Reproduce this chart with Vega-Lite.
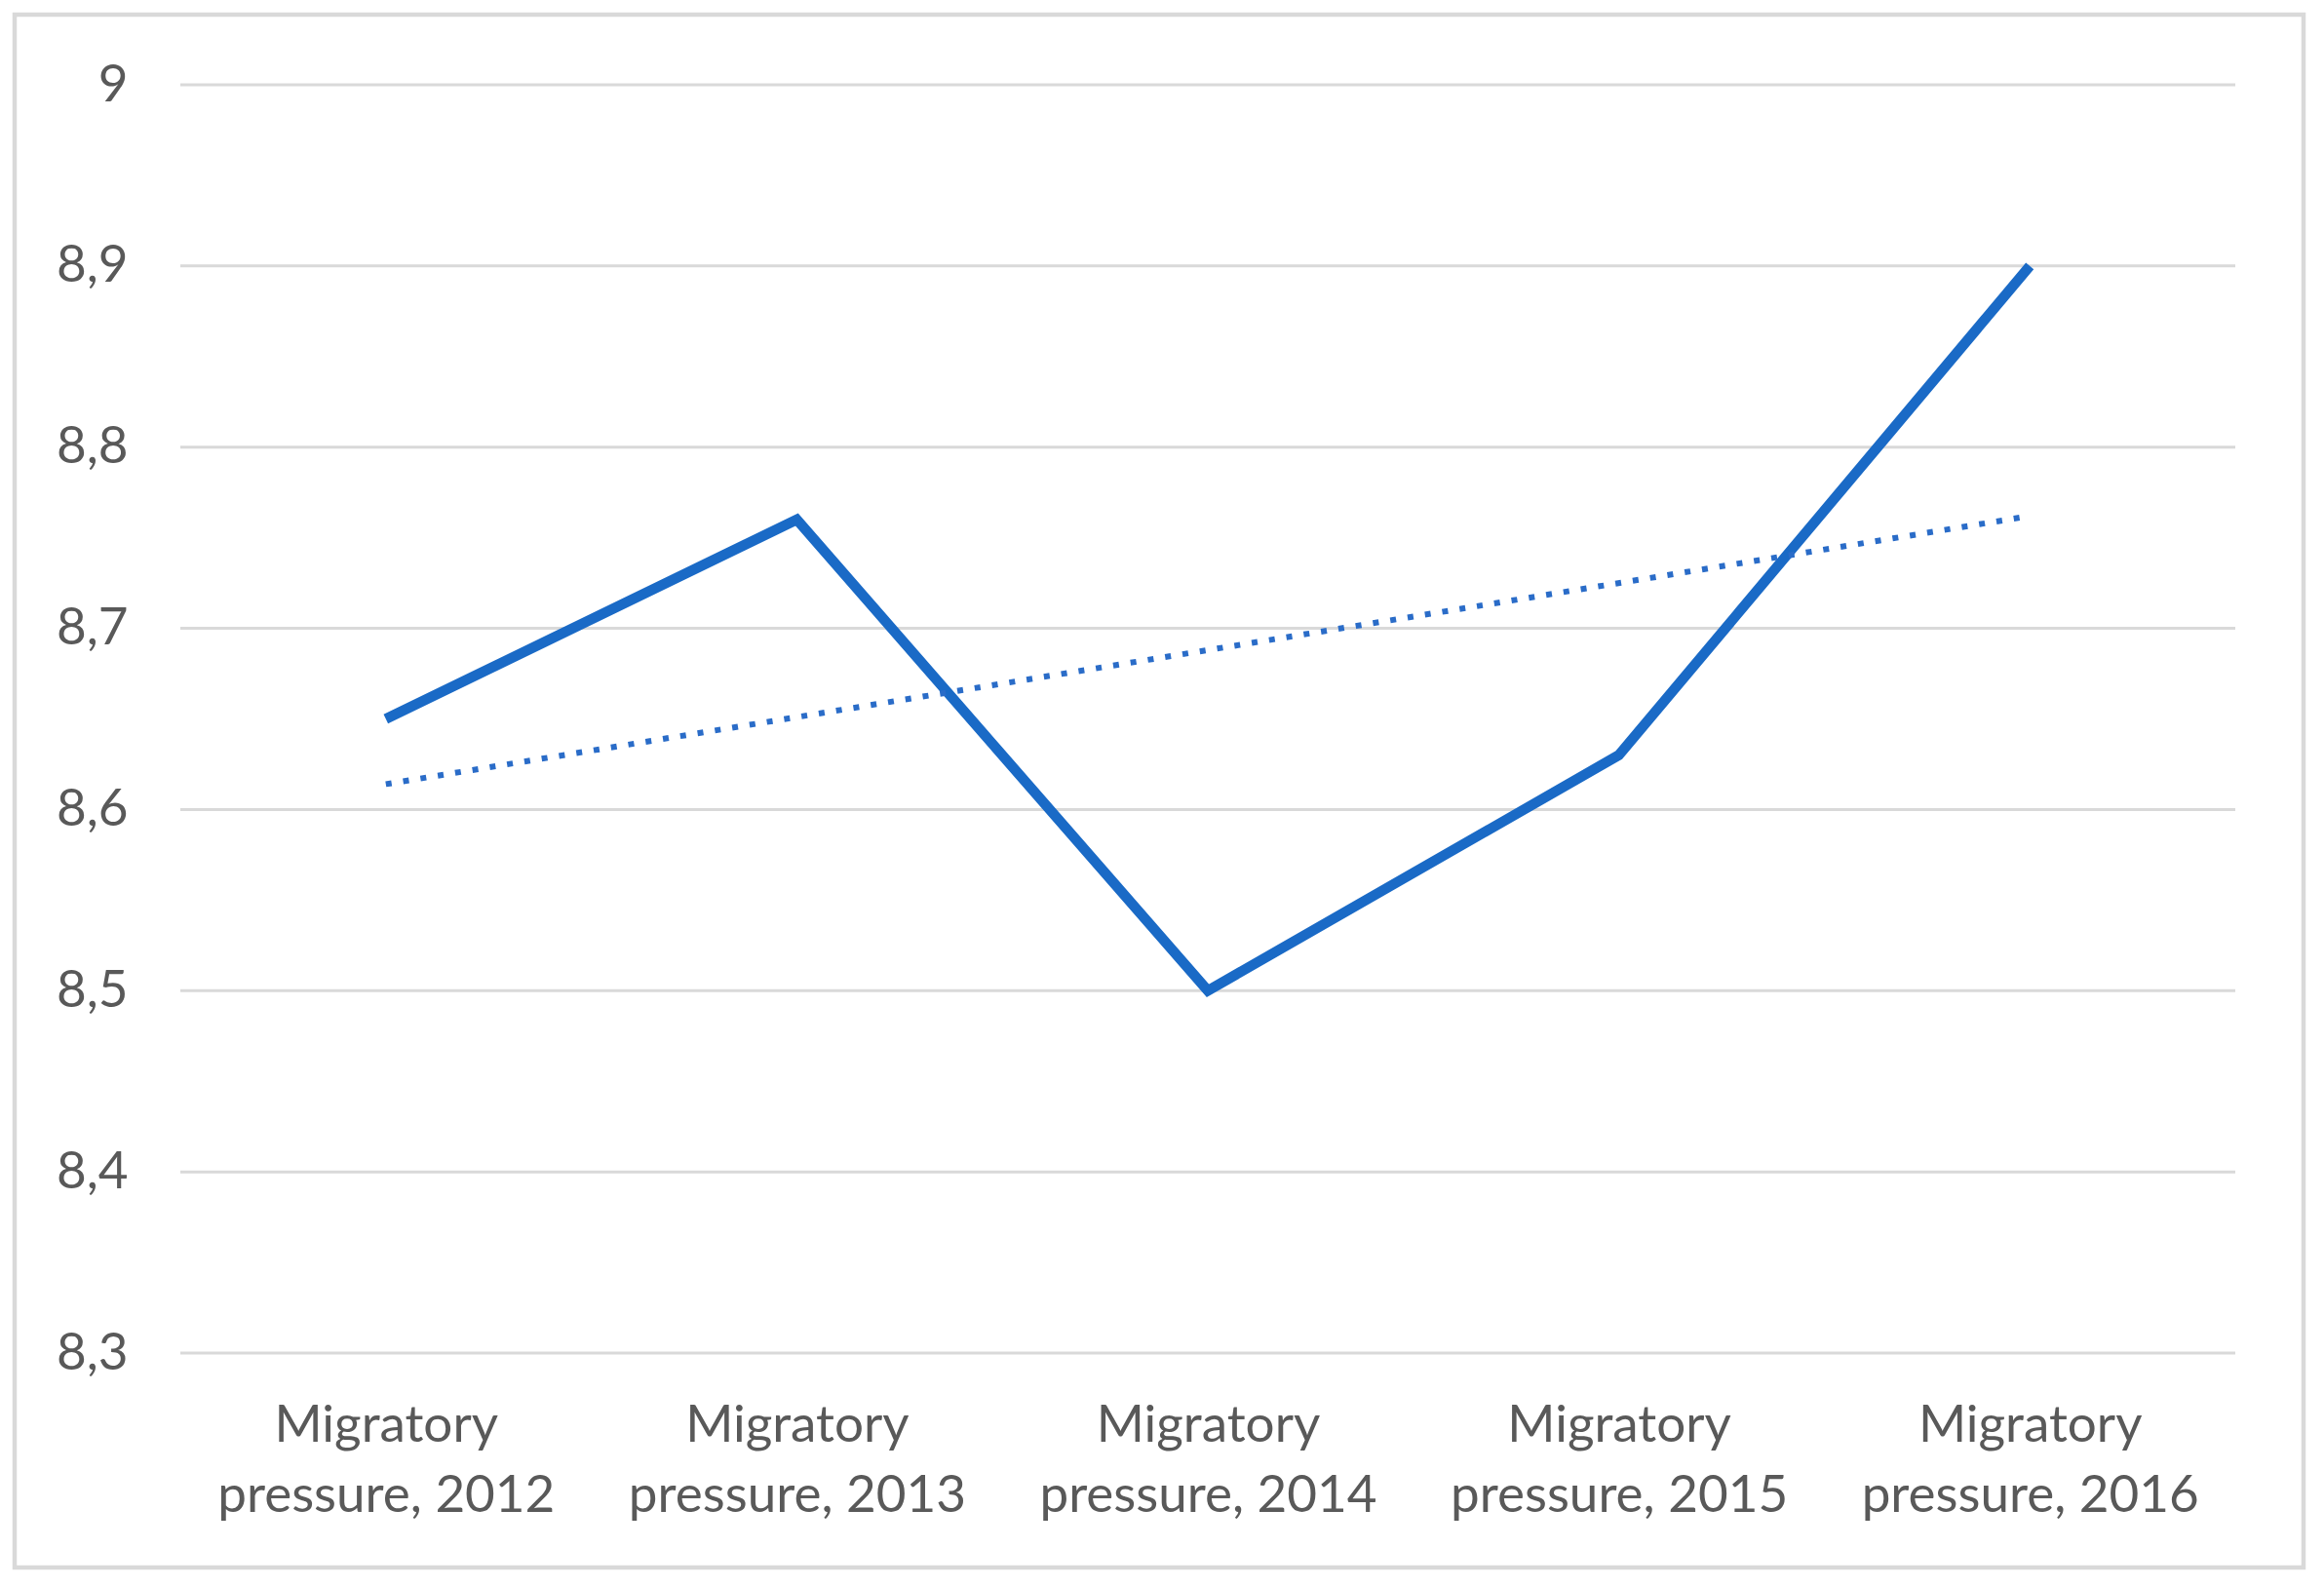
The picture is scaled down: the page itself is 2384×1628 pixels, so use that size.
{
  "$schema": "https://vega.github.io/schema/vega-lite/v6.json",
  "width": 2348,
  "height": 1593,
  "autosize": {"type": "none"},
  "padding": {"left": 15, "top": 15, "right": 21, "bottom": 20},
  "background": "white",
  "config": {
    "view": {"stroke": "#D9D9D9", "strokeWidth": 4.5}
  },
  "datasets": {
    "series": [
      {"year": 2012, "value": 8.65, "series": "Migratory pressure"},
      {"year": 2013, "value": 8.76, "series": "Migratory pressure"},
      {"year": 2014, "value": 8.50, "series": "Migratory pressure"},
      {"year": 2015, "value": 8.63, "series": "Migratory pressure"},
      {"year": 2016, "value": 8.90, "series": "Migratory pressure"},
      {"year": 2012, "value": 8.614, "series": "Linear trend"},
      {"year": 2016, "value": 8.762, "series": "Linear trend"}
    ],
    "grid": [
      {"v": 8.3}, {"v": 8.4}, {"v": 8.5}, {"v": 8.6},
      {"v": 8.7}, {"v": 8.8}, {"v": 8.9}, {"v": 9.0}
    ]
  },
  "layer": [
    {
      "data": {"name": "grid"},
      "mark": {"type": "rule", "color": "#D9D9D9", "strokeWidth": 3},
      "encoding": {
        "y": {
          "field": "v",
          "type": "quantitative",
          "scale": {"domain": [8.18163, 9.03874], "nice": false, "zero": false},
          "axis": {
            "values": [8.3, 8.4, 8.5, 8.6, 8.7, 8.8, 8.9, 9.0],
            "labelExpr": "replace(format(datum.value, '.1~f'), '.', ',')",
            "ticks": false,
            "tickSize": 0,
            "domain": false,
            "grid": false,
            "labelPadding": -116,
            "labelAlign": "right",
            "labelBaseline": "middle",
            "labelFont": "Lato",
            "labelFontSize": 53,
            "labelColor": "#595959",
            "labelOverlap": false,
            "labelFlush": false,
            "labelLimit": 0,
            "title": null
          }
        },
        "x": {
          "datum": 2011.5,
          "type": "quantitative",
          "scale": {"domain": [2011.0968, 2016.666], "nice": false, "zero": false},
          "axis": {
            "values": [2012, 2013, 2014, 2015, 2016],
            "labelExpr": "['Migratory', 'pressure, ' + datum.value]",
            "ticks": false,
            "tickSize": 0,
            "domain": false,
            "grid": false,
            "labelPadding": -130,
            "labelAlign": "center",
            "labelBaseline": "alphabetic",
            "labelFont": "Lato",
            "labelFontSize": 53,
            "labelLineHeight": 72,
            "labelColor": "#595959",
            "labelOverlap": false,
            "labelFlush": false,
            "labelLimit": 0,
            "title": null
          }
        },
        "x2": {"datum": 2016.5}
      }
    },
    {
      "data": {"name": "series"},
      "transform": [{"filter": "datum.series === 'Migratory pressure'"}],
      "mark": {"type": "line", "color": "#1A6AC6", "strokeWidth": 10.5, "strokeJoin": "miter"},
      "encoding": {
        "x": {"field": "year", "type": "quantitative"},
        "y": {"field": "value", "type": "quantitative"}
      }
    },
    {
      "data": {"name": "series"},
      "transform": [{"filter": "datum.series === 'Linear trend'"}],
      "mark": {"type": "line", "color": "#2A6CC8", "strokeWidth": 6, "strokeDash": [6, 12], "strokeCap": "butt"},
      "encoding": {
        "x": {"field": "year", "type": "quantitative"},
        "y": {"field": "value", "type": "quantitative"}
      }
    }
  ]
}
